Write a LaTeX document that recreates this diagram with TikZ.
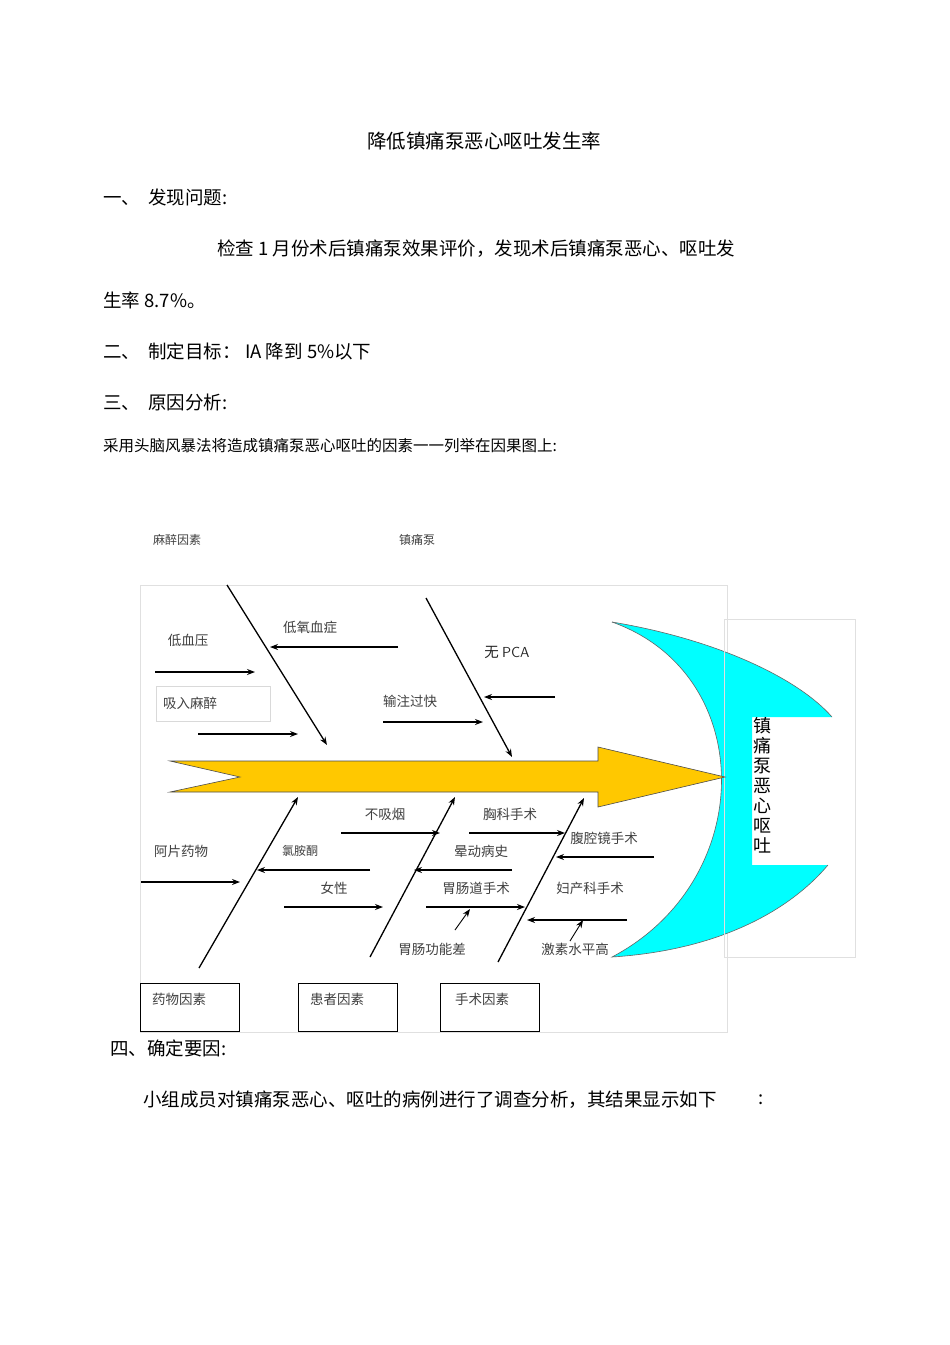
\documentclass[tikz,border=0pt]{standalone}
\usepackage{fontspec}
\setmainfont{Liberation Serif}
\newfontfamily\cjk{Noto Sans CJK SC}
\usetikzlibrary{arrows.meta}
\definecolor{aqua}{RGB}{0,255,255}
\definecolor{spinegold}{RGB}{255,200,0}
\tikzset{
 body/.style={anchor=west,inner sep=0pt,font=\cjk\fontsize{18.5}{20}\selectfont},
 lbl/.style={inner sep=0pt,font=\cjk\fontsize{13.5}{15}\selectfont,text=black!75},
 bone/.style={line width=1.3pt,-{Stealth[length=8pt,width=6pt]}},
 rib/.style={line width=1.2pt,-{Stealth[length=8pt,width=6pt]}},
 factbox/.style={draw,line width=0.8pt,minimum width=99pt,minimum height=48pt,inner sep=0pt}
}
\begin{document}
\begin{tikzpicture}[x=1pt,y=-1pt]
\useasboundingbox[fill=white] (0,0) rectangle (950,1345);
\node[inner sep=0pt,font=\cjk\fontsize{19.5}{21}\selectfont] (title) at (484,141) {降低镇痛泵恶心呕吐发生率};
\node[body] (p1) at (103,197) {一、\ \ 发现问题:};
\node[body] (p2) at (217,249) {检查 1 月份术后镇痛泵效果评价，发现术后镇痛泵恶心、呕吐发};
\node[body] (p3) at (103,300) {生率 8.7\%。};
\node[body] (p4) at (103,351) {二、\ \ 制定目标：\ IA 降到 5\%以下};
\node[body] (p5) at (103,402) {三、\ \ 原因分析:};
\node[body,font=\cjk\fontsize{15.5}{17}\selectfont] (p6) at (103,446) {采用头脑风暴法将造成镇痛泵恶心呕吐的因素一一列举在因果图上:};
\node[body] (p7) at (110,1048) {四、确定要因:};
\node[body] (p8) at (143,1100) {小组成员对镇痛泵恶心、呕吐的病例进行了调查分析，其结果显示如下};
\node[body] (p9) at (758,1100) {:};
\node[lbl,font=\cjk\fontsize{12}{14}\selectfont] (t1) at (177,540) {麻醉因素};
\node[lbl,font=\cjk\fontsize{12}{14}\selectfont] (t2) at (417,540) {镇痛泵};
% frame
\draw[black!12,line width=0.6pt] (140,585) rectangle (727,1032);
% head crescent
\fill[aqua] (612,622) .. controls (720,640) and (800,680) .. (832,717) -- (752,717) -- (752,865) -- (828,865) .. controls (790,910) and (720,950) .. (612,957) .. controls (758,880) and (758,674) .. (612,622) -- cycle;
\draw[black!60,line width=0.6pt] (612,622) .. controls (720,640) and (800,680) .. (832,717);
\draw[black!60,line width=0.6pt] (828,865) .. controls (790,910) and (720,950) .. (612,957) .. controls (758,880) and (758,674) .. (612,622);
\draw[black!12,line width=0.6pt] (724,619) rectangle (855,957);
\node[inner sep=0pt,align=center,font=\cjk\fontsize{18}{20}\selectfont] (head) at (762,785) {镇\\痛\\泵\\恶\\心\\呕\\吐};
% spine
\draw[fill=spinegold,draw=black!70,line width=0.6pt] (170,761) -- (598,761) -- (598,747) -- (725,777) -- (598,807) -- (598,792) -- (170,792) -- (240,777) -- cycle;
% bones
\coordinate (b1s) at (227,585); \coordinate (b1e) at (327,745);
\coordinate (b2s) at (426,598); \coordinate (b2e) at (512,757);
\coordinate (b3s) at (199,968); \coordinate (b3e) at (298,797);
\coordinate (b4s) at (370,957); \coordinate (b4e) at (455,797);
\coordinate (b5s) at (498,962); \coordinate (b5e) at (584,798);
\foreach \a/\b in {b1s/b1e,b2s/b2e,b3s/b3e,b4s/b4e,b5s/b5e} \draw[bone] (\a) -- (\b);
% upper labels & ribs
\node[lbl] (l1) at (188,640) {低血压};
\draw[rib] (155,672) coordinate (r1a) -- (255,672) coordinate (r1b);
\node[lbl] (l2) at (310,627) {低氧血症};
\draw[rib] (398,647) coordinate (r2a) -- (270,647) coordinate (r2b);
\node[lbl,draw=black!15,line width=0.6pt,minimum width=114pt,minimum height=35pt,text width=100pt,align=left] (l3) at (213,703.5) {吸入麻醉};
\draw[rib] (198,734) coordinate (r3a) -- (298,734) coordinate (r3b);
\node[lbl,font=\cjk\fontsize{14.5}{16}\selectfont,text=black!85] (l4) at (507,652) {无 \textsf{PCA}};
\draw[rib] (555,697) coordinate (r4a) -- (484,697) coordinate (r4b);
\node[lbl] (l5) at (410,701) {输注过快};
\draw[rib] (383,722) coordinate (r5a) -- (483,722) coordinate (r5b);
% lower
\node[lbl] (l6) at (181,851) {阿片药物};
\draw[rib] (141,882) coordinate (r6a) -- (240,882) coordinate (r6b);
\node[lbl,font=\cjk\fontsize{12}{14}\selectfont] (l7) at (300,851) {氯胺酮};
\draw[rib] (370,870) coordinate (r7a) -- (257,870) coordinate (r7b);
\node[lbl] (l8) at (334,888) {女性};
\draw[rib] (284,907) coordinate (r8a) -- (383,907) coordinate (r8b);
\node[lbl] (l9) at (385,814) {不吸烟};
\draw[rib] (341,833) coordinate (r9a) -- (440,833) coordinate (r9b);
\node[lbl] (l10) at (481,851) {晕动病史};
\draw[rib] (512,870) coordinate (r10a) -- (414,870) coordinate (r10b);
\node[lbl] (l11) at (476,888) {胃肠道手术};
\draw[rib] (426,907) coordinate (r11a) -- (525,907) coordinate (r11b);
\node[lbl] (l12) at (432,949) {胃肠功能差};
\draw[rib,line width=0.9pt] (455,930) coordinate (r12a) -- (470,909) coordinate (r12b);
\node[lbl] (l13) at (510,814) {胸科手术};
\draw[rib] (469,833) coordinate (r13a) -- (565,833) coordinate (r13b);
\node[lbl] (l14) at (604,838) {腹腔镜手术};
\draw[rib] (654,857) coordinate (r14a) -- (556,857) coordinate (r14b);
\node[lbl] (l15) at (590,888) {妇产科手术};
\draw[rib] (627,920) coordinate (r15a) -- (527,920) coordinate (r15b);
\node[lbl] (l16) at (575,949) {激素水平高};
\draw[rib,line width=0.9pt] (570,941) coordinate (r16a) -- (583,920) coordinate (r16b);
% boxes
\node[factbox] (f1) at (189.5,1007) {};
\node[lbl,anchor=north west] (f1t) at (152,993) {药物因素};
\node[factbox] (f2) at (347.5,1007) {};
\node[lbl,anchor=north west] (f2t) at (310,993) {患者因素};
\node[factbox] (f3) at (490,1007) {};
\node[lbl,anchor=north west] (f3t) at (455,993) {手术因素};
\end{tikzpicture}
\end{document}
